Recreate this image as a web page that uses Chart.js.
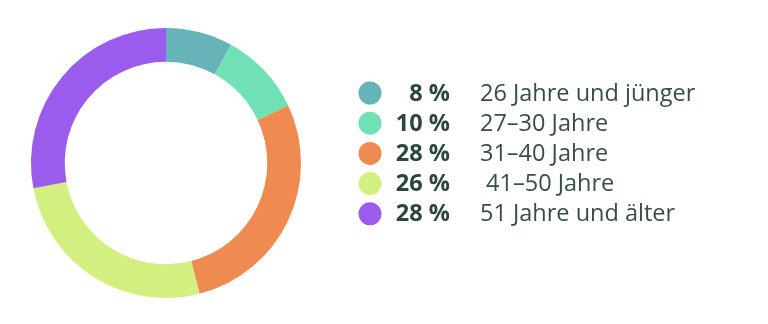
<!DOCTYPE html>
<html lang="de">
<head>
<meta charset="utf-8">
<script src="https://cdn.jsdelivr.net/npm/chart.js@4"></script>
<style>
  html, body { margin: 0; padding: 0; background: #fff; }
  #wrap { width: 768px; height: 324px; }
</style>
</head>
<body>
<div id="wrap"><canvas id="altersChart"></canvas></div>
<script>
// Altersgruppen und Anteile in Prozent
const categories = ['26 Jahre und jünger', '27–30 Jahre', '31–40 Jahre', ' 41–50 Jahre', '51 Jahre und älter'];
const shares = [8, 10, 28, 26, 28];
const colors = ['#66b4b9', '#70e1b5', '#ef8b50', '#d3ef7f', '#9b5bed'];

// Legende rechts neben dem Ring: Punkt, Prozentwert (fett), Bezeichnung
const sideLegend = {
  id: 'sideLegend',
  afterDraw(chart) {
    const ctx = chart.ctx;
    const ds = chart.data.datasets[0];
    const top = 93, step = 30.2;
    ctx.save();
    ctx.textBaseline = 'middle';
    chart.data.labels.forEach((label, i) => {
      const y = top + i * step;
      ctx.beginPath();
      ctx.arc(370, y, 11.5, 0, Math.PI * 2);
      ctx.fillStyle = ds.backgroundColor[i];
      ctx.fill();

      ctx.fillStyle = '#2b463c';
      ctx.font = 'bold 23.5px "Open Sans", sans-serif';
      ctx.textAlign = 'right';
      ctx.fillText(ds.data[i] + ' %', 450, y + 1);

      ctx.fillStyle = '#34503f';
      ctx.font = '23.5px "Open Sans", sans-serif';
      ctx.textAlign = 'left';
      ctx.fillText(label, 480, y + 1);
    });
    ctx.restore();
  }
};

new Chart(document.getElementById('altersChart'), {
  type: 'doughnut',
  data: {
    labels: categories,
    datasets: [{
      data: shares,
      backgroundColor: colors,
      borderWidth: 0
    }]
  },
  options: {
    responsive: true,
    maintainAspectRatio: false,
    animation: false,
    cutout: '75%',
    layout: { padding: { left: 30, right: 466, top: 28, bottom: 26 } },
    plugins: {
      legend: { display: false },
      tooltip: { enabled: false }
    }
  },
  plugins: [sideLegend]
});
</script>
</body>
</html>
